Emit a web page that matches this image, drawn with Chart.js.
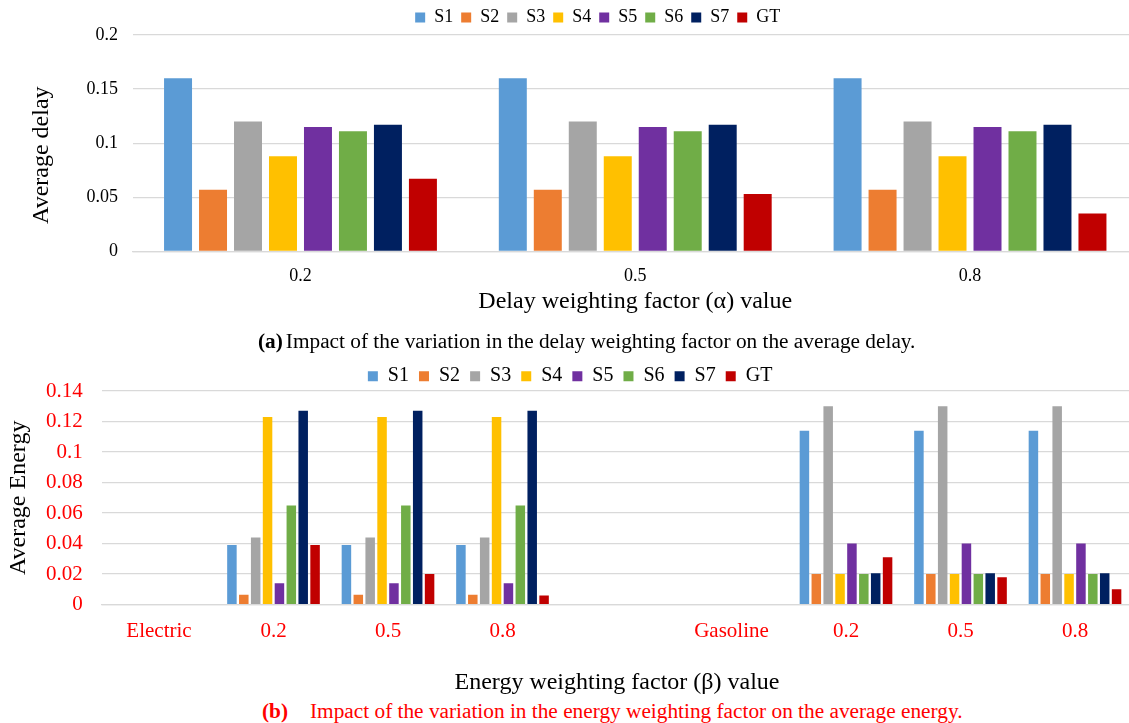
<!DOCTYPE html>
<html>
<head>
<meta charset="utf-8">
<script src="https://cdn.jsdelivr.net/npm/chart.js@4.4.1/dist/chart.umd.min.js"></script>
<style>
html, body { margin: 0; padding: 0; background: #fff; overflow: hidden; width: 1129px; height: 723px; }
body { position: relative; font-family: "Liberation Serif", "Times New Roman", serif; }
canvas { position: absolute; left: 0; }
#delayChart { top: -1px; }
#energyChart { top: 351px; }
.cap { position: absolute; font-size: 21.3px; line-height: 24px; white-space: nowrap; }
#capA { top: 329px; left: 258px; color: #000; }
#capB { top: 699px; left: 262px; color: #ff0000; }
</style>
</head>
<body>
<canvas id="delayChart" width="1145" height="317"></canvas>
<canvas id="energyChart" width="1140" height="346"></canvas>
<div class="cap" id="capA"><b>(a)</b><span style="margin-left:3px">Impact of the variation in the delay weighting factor on the average delay.</span></div>
<div class="cap" id="capB"><b>(b)</b><span style="margin-left:22px">Impact of the variation in the energy weighting factor on the average energy.</span></div>
<script>
const seriesNames = ["S1", "S2", "S3", "S4", "S5", "S6", "S7", "GT"]
const seriesColors = ["#5B9BD5", "#ED7D31", "#A5A5A5", "#FFC000", "#7030A0", "#70AD47", "#002060", "#C00000"]

// (a) delay
const delayLabels = ["0.2", "0.5", "0.8"]
const delayS1 = [0.16, 0.16, 0.16]
const delayS2 = [0.057, 0.057, 0.057]
const delayS3 = [0.12, 0.12, 0.12]
const delayS4 = [0.088, 0.088, 0.088]
const delayS5 = [0.115, 0.115, 0.115]
const delayS6 = [0.111, 0.111, 0.111]
const delayS7 = [0.117, 0.117, 0.117]
const delayGT = [0.067, 0.053, 0.035]
const delayTicks = [0, 0.05, 0.1, 0.15, 0.2]

// (b) energy
const energyLabels = ["Electric", "0.2", "0.5", "0.8", "", "Gasoline", "0.2", "0.5", "0.8"]
const energyS1 = [null, 0.039, 0.039, 0.039, null, null, 0.114, 0.114, 0.114]
const energyS2 = [null, 0.0065, 0.0065, 0.0065, null, null, 0.02, 0.02, 0.02]
const energyS3 = [null, 0.044, 0.044, 0.044, null, null, 0.13, 0.13, 0.13]
const energyS4 = [null, 0.123, 0.123, 0.123, null, null, 0.02, 0.02, 0.02]
const energyS5 = [null, 0.014, 0.014, 0.014, null, null, 0.04, 0.04, 0.04]
const energyS6 = [null, 0.065, 0.065, 0.065, null, null, 0.02, 0.02, 0.02]
const energyS7 = [null, 0.127, 0.127, 0.127, null, null, 0.0205, 0.0205, 0.0205]
const energyGT = [null, 0.039, 0.02, 0.006, null, null, 0.031, 0.018, 0.01]
const energyTicks = [0, 0.02, 0.04, 0.06, 0.08, 0.1, 0.12, 0.14]

const FONT = '"Liberation Serif", "Times New Roman", serif'
const fmt = v => String(+Number(v).toFixed(3))

// move the legend a bit, the chart puts it in the middle of the canvas
const shiftLegend = {
   id: 'shiftLegend',
   afterLayout(chart, args, opts) {
      const l = chart.legend
      if (!l) return
      l.left += opts.dx || 0
      l.right += opts.dx || 0
      l.top += opts.dy || 0
      l.bottom += opts.dy || 0
   }
}

const makeSets = (lists, bp, cp) => {
   let sets = []
   for (let i = 0; i < lists.length; i++) {
      sets.push({
         label: seriesNames[i],
         data: lists[i],
         backgroundColor: seriesColors[i],
         borderWidth: 0,
         barPercentage: bp,
         categoryPercentage: cp
      })
   }
   return sets
}

new Chart(document.getElementById("delayChart"), {
   type: 'bar',
   data: {
      labels: delayLabels,
      datasets: makeSets([delayS1, delayS2, delayS3, delayS4, delayS5, delayS6, delayS7, delayGT], 0.8, 0.836)
   },
   options: {
      responsive: false,
      animation: false,
      layout: { padding: { left: 0, right: 7.6, top: 0, bottom: 0 } },
      plugins: {
         legend: {
            position: 'top',
            labels: { boxWidth: 10, boxHeight: 10, padding: 8, color: '#000', font: { family: FONT, size: 18 } }
         },
         tooltip: { enabled: false },
         shiftLegend: { dx: 29, dy: 1.5 }
      },
      scales: {
         x: {
            grid: { display: false, drawTicks: false },
            border: { color: '#d9d9d9', width: 1.3 },
            ticks: { color: '#000', padding: 14.5, font: { family: FONT, size: 18 } },
            title: { display: true, text: 'Delay weighting factor (α) value', color: '#000', font: { family: FONT, size: 24 }, padding: { top: -14.7, bottom: 0 } }
         },
         y: {
            min: 0,
            max: 0.2,
            afterFit: s => { s.width = 133.1 },
            afterBuildTicks: s => { s.ticks = delayTicks.map(v => ({ value: v })) },
            grid: { color: '#d9d9d9', lineWidth: 1.3, drawTicks: false },
            border: { display: false },
            ticks: { color: '#000', padding: 15, font: { family: FONT, size: 18 }, callback: fmt },
            // the non-breaking spaces push the title down a little, like the original
            title: { display: true, text: 'Average delay\u00a0\u00a0\u00a0\u00a0', color: '#000', font: { family: FONT, size: 24 }, padding: { top: 27.6, bottom: 0 } }
         }
      }
   },
   plugins: [shiftLegend]
})

new Chart(document.getElementById("energyChart"), {
   type: 'bar',
   data: {
      labels: energyLabels,
      datasets: makeSets([energyS1, energyS2, energyS3, energyS4, energyS5, energyS6, energyS7, energyGT], 0.8, 0.83)
   },
   options: {
      responsive: false,
      animation: false,
      layout: { padding: { left: 0, right: 7.75, top: 0, bottom: 0 } },
      plugins: {
         legend: {
            position: 'top',
            labels: { boxWidth: 10, boxHeight: 10, padding: 10, color: '#000', font: { family: FONT, size: 20 } }
         },
         tooltip: { enabled: false },
         shiftLegend: { dx: 4, dy: 5.2 }
      },
      scales: {
         x: {
            grid: { display: false, drawTicks: false },
            border: { color: '#d9d9d9', width: 1.3 },
            ticks: { color: '#ff0000', padding: 14.4, autoSkip: false, maxRotation: 0, font: { family: FONT, size: 21 } },
            title: { display: true, text: 'Energy weighting factor (β) value', color: '#000', font: { family: FONT, size: 24 }, padding: { top: 9.6, bottom: 0 } }
         },
         y: {
            min: 0,
            max: 0.14,
            afterFit: s => { s.width = 101.75 },
            afterBuildTicks: s => { s.ticks = energyTicks.map(v => ({ value: v })) },
            grid: { color: '#d9d9d9', lineWidth: 1.3, drawTicks: false },
            border: { display: false },
            ticks: { color: '#ff0000', padding: 19, font: { family: FONT, size: 21 }, callback: fmt },
            title: { display: true, text: 'Average Energy', color: '#000', font: { family: FONT, size: 24 }, padding: { top: 4.6, bottom: 0 } }
         }
      }
   },
   plugins: [shiftLegend]
})
</script>
</body>
</html>
